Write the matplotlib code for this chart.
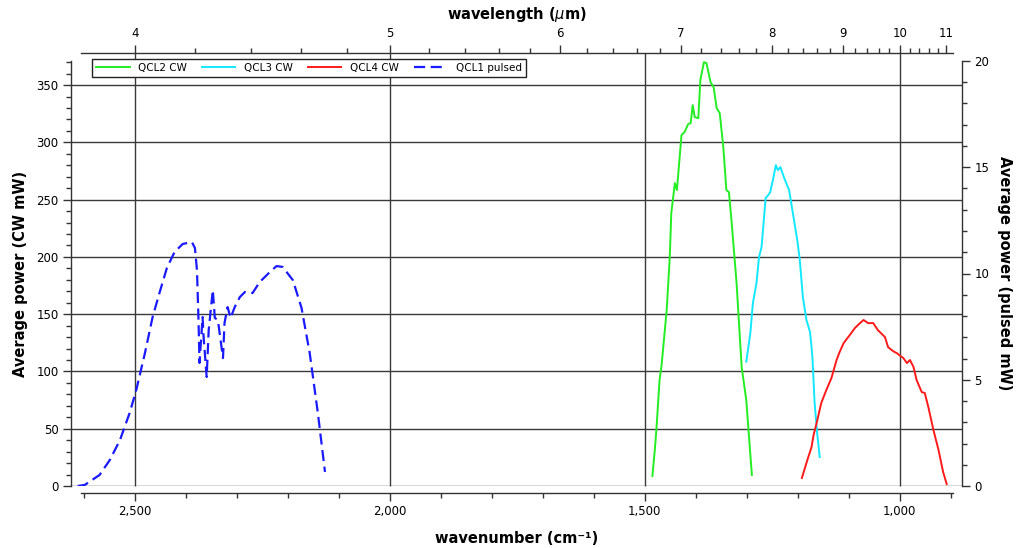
import matplotlib.pyplot as plt
from matplotlib.ticker import MultipleLocator, FixedLocator, FuncFormatter
import numpy as np

# QCL1 pulsed (right axis, mW)
qcl1_wn = [2612, 2598, 2569, 2549, 2529, 2510, 2497, 2480, 2465, 2451, 2437, 2422,
           2406, 2388, 2382, 2378, 2375, 2373, 2367, 2365, 2359, 2355, 2347, 2343,
           2337, 2327, 2324, 2318, 2312, 2304, 2294, 2284, 2269, 2255, 2235, 2222,
           2210, 2190, 2173, 2157, 2141, 2127]
qcl1_pw = [0.0, 0.05, 0.52, 1.22, 2.16, 3.44, 4.52, 6.26, 7.95, 9.13, 10.26, 11.01,
           11.39, 11.48, 11.2, 10.16, 7.81, 5.79, 7.95, 7.01, 5.13, 7.34, 9.22, 7.91,
           7.81, 6.02, 7.67, 8.42, 7.91, 8.42, 8.89, 9.13, 9.08, 9.6, 10.07, 10.35,
           10.31, 9.69, 8.38, 6.26, 3.44, 0.66]

# QCL2 CW (left axis, mW)
qcl2_wn = [1485, 1480, 1477, 1471, 1467, 1457, 1451, 1448, 1441, 1437, 1428, 1422,
           1415, 1410, 1406, 1402, 1395, 1391, 1384, 1379, 1371, 1365, 1359, 1353,
           1346, 1340, 1335, 1330, 1320, 1310, 1301, 1290]
qcl2_pw = [8.7, 33.2, 50.6, 92.5, 105.6, 153.6, 199.8, 238.2, 264.4, 258.3, 306.3, 308.9,
           315.9, 316.8, 332.5, 322.0, 321.1, 354.3, 370.0, 369.1, 352.5, 348.2, 329.8, 325.5,
           295.8, 258.3, 256.5, 232.1, 177.1, 103.8, 75.0, 9.6]

# QCL3 CW
qcl3_wn = [1301, 1293, 1288, 1281, 1276, 1271, 1263, 1258, 1254, 1248, 1243, 1239,
           1234, 1230, 1225, 1217, 1209, 1201, 1196, 1190, 1183, 1176, 1173, 1171,
           1167, 1162, 1157]
qcl3_pw = [108.5, 133.5, 159.7, 177.1, 199.8, 208.6, 251.3, 253.9, 256.5, 268.8, 280.1, 275.7,
           278.4, 273.1, 267.0, 258.3, 236.5, 214.7, 197.2, 164.9, 144.9, 134.4, 121.3, 110.0,
           72.4, 46.2, 25.3]

# QCL4 CW
qcl4_wn = [1192, 1186, 1180, 1173, 1169, 1163, 1154, 1144, 1134, 1124, 1118, 1110,
           1098, 1088, 1078, 1071, 1062, 1052, 1043, 1029, 1023, 1016, 1010, 1006,
           1001, 993, 986, 980, 973, 967, 957, 951, 944, 934, 924, 915, 908]
qcl4_pw = [7.0, 15.7, 24.4, 34.0, 44.5, 55.0, 72.4, 83.8, 94.2, 109.9, 116.9, 124.8,
           131.8, 137.9, 142.2, 144.9, 142.2, 142.2, 136.1, 130.0, 121.3, 118.7, 116.9, 116.1,
           114.3, 111.7, 107.3, 110.0, 103.8, 92.5, 82.0, 81.2, 68.9, 48.9, 31.4, 12.2, 1.7]

wn_major = [2500, 2000, 1500, 1000]
wl_major = [4, 5, 6, 7, 8, 9, 10, 11]

spine_c = '#333333'
grid_c = '#3a3a3a'

fig = plt.figure(figsize=(10.16, 5.48), dpi=100)
ax = fig.add_axes([71 / 1016, 1 - 486 / 548, 891 / 1016, 425 / 548])
ax_r = ax.twinx()
ax_t = ax.twiny()

xlim = (2625, 878)
ax.set_xlim(xlim)
ax_t.set_xlim(xlim)
ax.set_ylim(0, 371)
ax_r.set_ylim(0, 20)

# curves
l2, = ax.plot(qcl2_wn, qcl2_pw, color='#22ee22', lw=1.4, label='QCL2 CW')
l3, = ax.plot(qcl3_wn, qcl3_pw, color='#11e8ff', lw=1.4, label='QCL3 CW')
l4, = ax.plot(qcl4_wn, qcl4_pw, color='#ff1a1a', lw=1.4, label='QCL4 CW')
l1, = ax_r.plot(qcl1_wn, qcl1_pw, color='#1a1aff', lw=1.6, ls=(0, (5, 2.5)), label='QCL1 pulsed')

# grid: horizontal ones normal, vertical ones run up to the top axis line
ax.set_yticks(np.arange(0, 351, 50))
ax.yaxis.set_minor_locator(MultipleLocator(10))
ax.set_xticks(wn_major)
ax.xaxis.set_minor_locator(FixedLocator(np.arange(900, 2601, 100)))
ax.xaxis.set_major_formatter(FuncFormatter(lambda v, p: f"{int(v):,}"))
ax.grid(True, axis='y', which='major', color=grid_c, lw=1.0)
ax.vlines(wn_major, 0, 1 + 8 / 425, transform=ax.get_xaxis_transform(),
          color=grid_c, lw=1.0, clip_on=False, zorder=0.5)
ax.set_axisbelow(True)

ax_r.set_yticks([0, 5, 10, 15, 20])
ax_r.yaxis.set_minor_locator(MultipleLocator(1))

# top wavelength axis
ax_t.set_xticks([10000 / w for w in wl_major])
ax_t.set_xticklabels([str(w) for w in wl_major])
wl_minor = [round(4 + 0.2 * i, 1) for i in range(36)]
wl_minor = [w for w in wl_minor if w not in wl_major and w < 11]
ax_t.xaxis.set_minor_locator(FixedLocator([10000 / w for w in wl_minor]))

# spines
for a in (ax, ax_r, ax_t):
    for s in a.spines.values():
        s.set_visible(False)
        s.set_color(spine_c)
        s.set_linewidth(1.0)
ax.spines['left'].set_visible(True)
ax.spines['bottom'].set_visible(True)
ax.spines['bottom'].set_position(('outward', 5))
ax.spines['bottom'].set_bounds(2606, 896)
ax_r.spines['right'].set_visible(True)
ax_t.spines['top'].set_visible(True)
ax_t.spines['top'].set_position(('outward', 6))
ax_t.spines['top'].set_bounds(2606, 896)

for a in (ax, ax_r, ax_t):
    a.tick_params(which='major', length=6, width=1.0, color=spine_c, labelsize=8.5, pad=3)
    a.tick_params(which='minor', length=3.5, width=1.0, color=spine_c)

ax.set_xlabel('wavenumber (cm⁻¹)', fontsize=10.5, fontweight='bold', labelpad=9)
ax.set_ylabel('Average power (CW mW)', fontsize=10.5, fontweight='bold', labelpad=6)
ax_r.set_ylabel('Average power (pulsed mW)', fontsize=10.5, fontweight='bold',
                rotation=270, labelpad=16)
ax_t.set_xlabel(r'wavelength ($\mu$m)', fontsize=10.5, fontweight='bold', labelpad=6)

leg = ax_t.legend(handles=[l2, l3, l4, l1], loc='upper left', ncol=4, mode='expand',
                  bbox_to_anchor=(0.0236, 0.953, 0.487, 0.052), fontsize=7.5,
                  handlelength=3.2, handletextpad=0.8, borderaxespad=0,
                  fancybox=False, framealpha=1, edgecolor='#222222',
                  borderpad=0.4)
leg.get_frame().set_linewidth(1.0)

fig.savefig('out.png', dpi=100, facecolor='white')
